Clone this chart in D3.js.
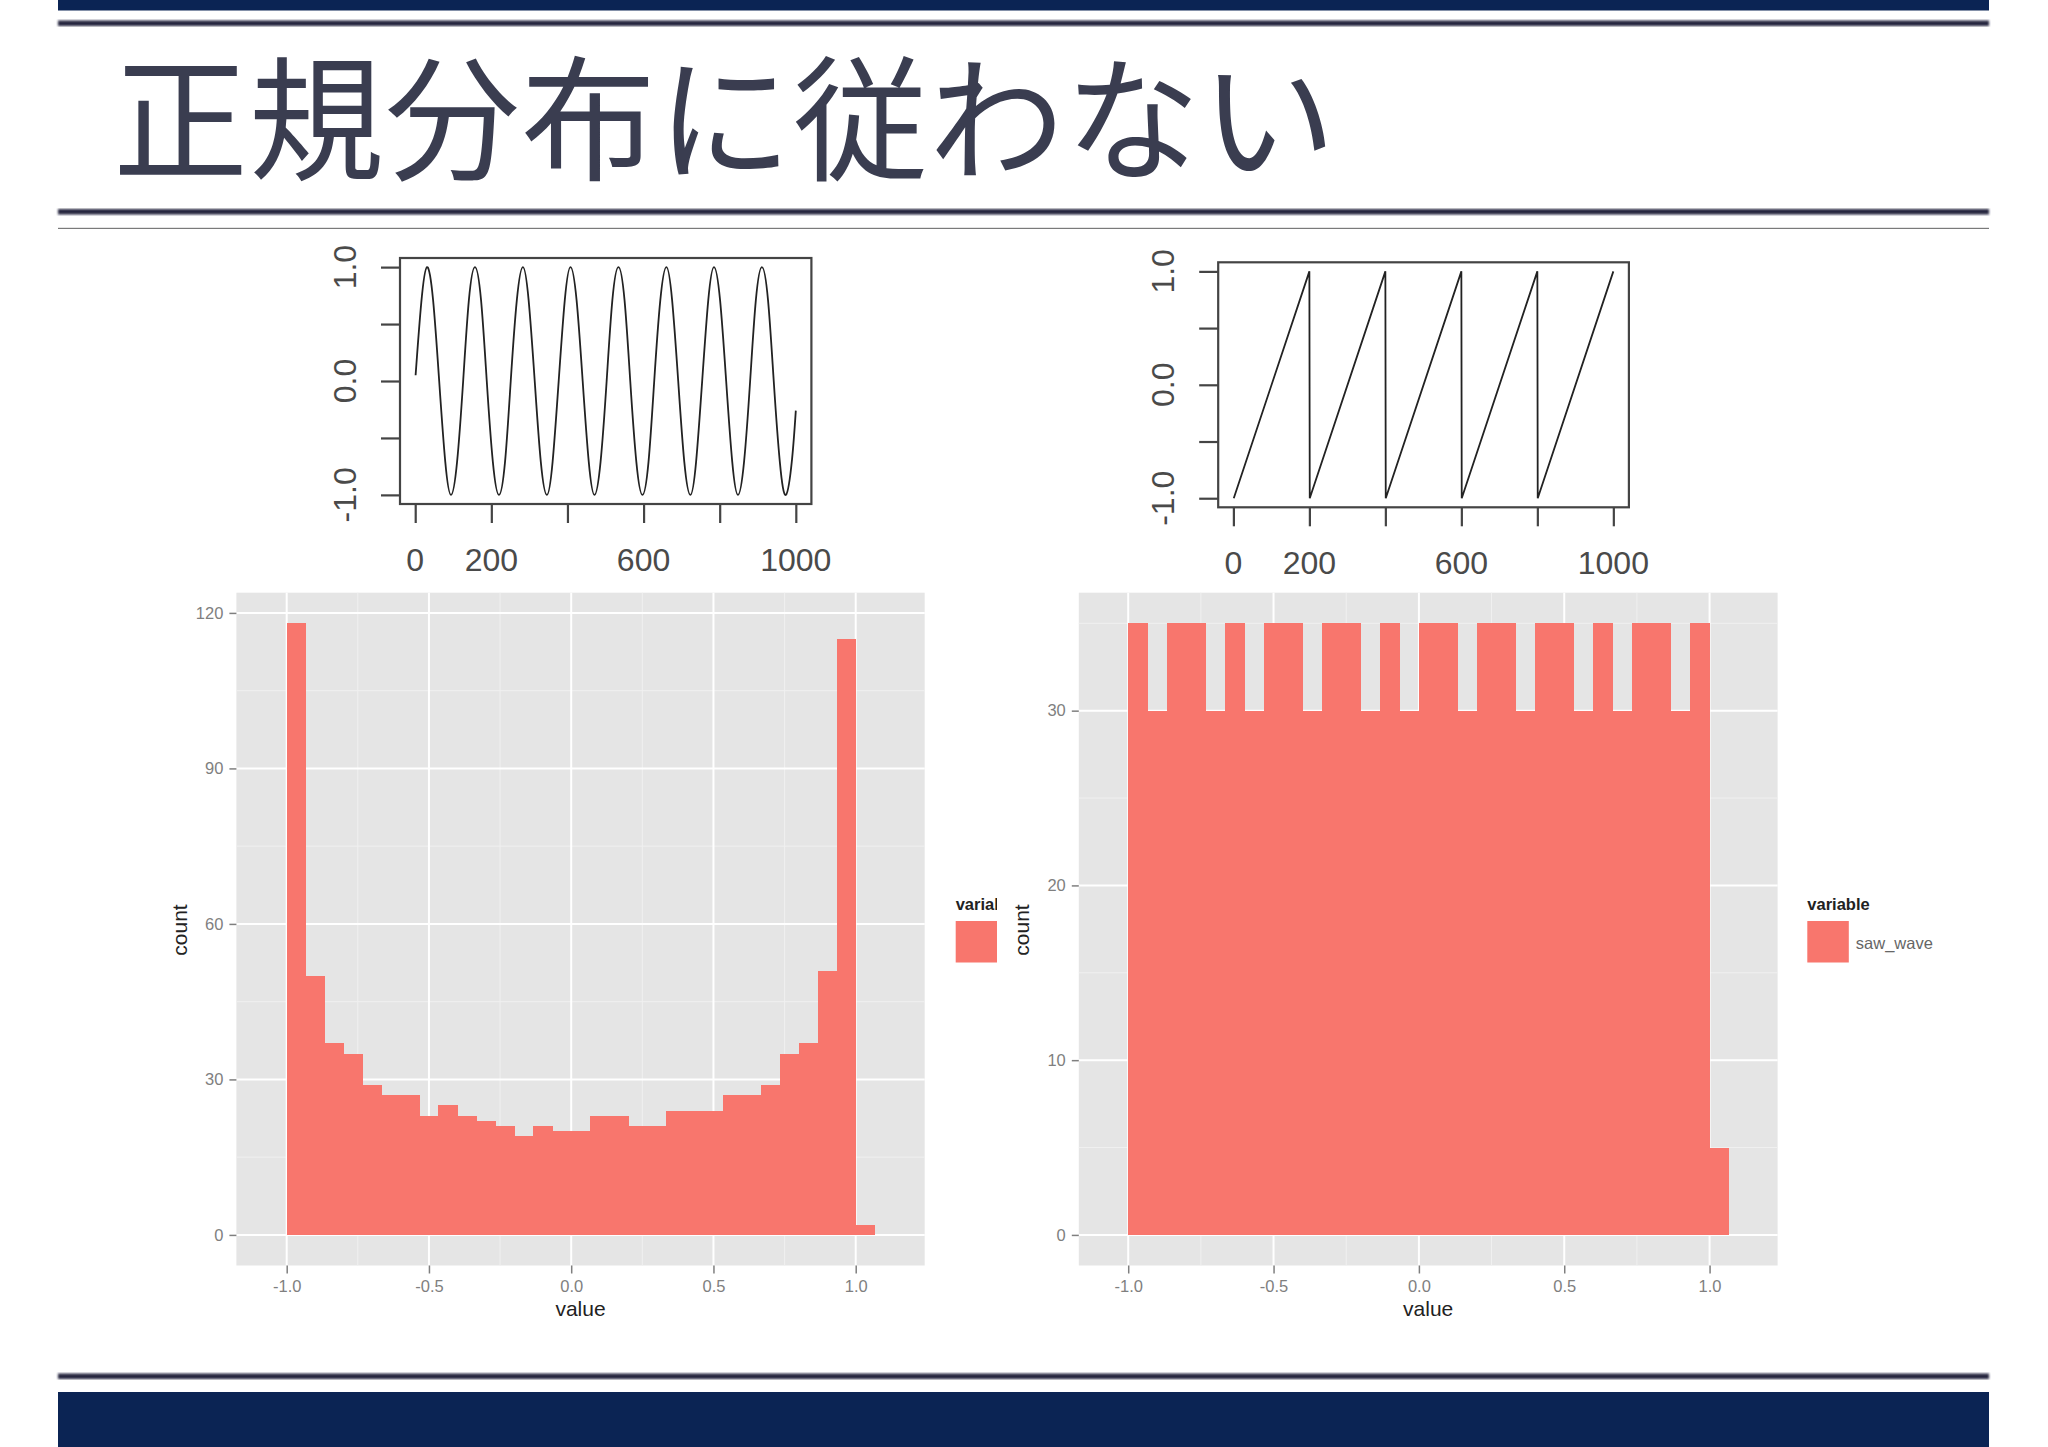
<!DOCTYPE html>
<html><head><meta charset="utf-8">
<script src="https://cdn.jsdelivr.net/npm/d3@7/dist/d3.min.js"></script>
<style>html,body{margin:0;padding:0;background:#fff;} svg{display:block;}</style>
</head><body>
<script>
// ---------------- data ----------------
const titleText = "正規分布に従わない";

// sine wave, read at ~eighth-period points from the upper-left plot
const sineTimes  = [1,16,31,47,63,79,94,110,126,141,157,173,188,204,220,236,251,267,283,298,314,330,346,361,377,393,408,424,440,456,471,487,503,518,534,550,565,581,597,613,628,644,660,675,691,707,723,738,754,770,785,801,817,833,848,864,880,895,911,927,942,958,974,990,1000];
const sineValues = [0.05,0.69,1,0.71,0,-0.71,-1,-0.71,0,0.71,1,0.71,0,-0.71,-1,-0.71,0,0.71,1,0.71,0,-0.71,-1,-0.71,0,0.71,1,0.71,0,-0.71,-1,-0.71,0,0.71,1,0.71,0,-0.71,-1,-0.71,0,0.71,1,0.71,0,-0.71,-1,-0.71,0,0.71,1,0.71,0,-0.71,-1,-0.71,0,0.71,1,0.71,0,-0.71,-1,-0.69,-0.26];

// saw wave, read at its corners from the upper-right plot
const sawTimes  = [1,200,201,400,401,600,601,800,801,1000];
const sawValues = [-1,1,-1,1,-1,1,-1,1,-1,1];

const lineTicksX  = [0,200,400,600,800,1000];
const lineLabelsX = ["0","200","","600","","1000"];
const lineTicksY  = [-1,-0.5,0,0.5,1];
const lineLabelsY = ["-1.0","","0.0","","1.0"];

// histogram bins (30 bins of width 2/30 starting at -1, plus one at 1.0)
const binStarts = [-1,-0.9333,-0.8667,-0.8,-0.7333,-0.6667,-0.6,-0.5333,-0.4667,-0.4,-0.3333,-0.2667,-0.2,-0.1333,-0.0667,0,0.0667,0.1333,0.2,0.2667,0.3333,0.4,0.4667,0.5333,0.6,0.6667,0.7333,0.8,0.8667,0.9333,1];
const binWidth = 0.0667;
const sineCounts = [118,50,37,35,29,27,27,23,25,23,22,21,19,21,20,20,23,23,21,21,24,24,24,27,27,29,35,37,51,115,2];
const sawCounts  = [35,30,35,35,30,35,30,35,35,30,35,35,30,35,30,35,35,30,35,35,30,35,35,30,35,30,35,35,30,35,5];

const histTicksX  = [-1,-0.5,0,0.5,1];
const histLabelsX = ["-1.0","-0.5","0.0","0.5","1.0"];
const histMinorX  = [-0.75,-0.25,0.25,0.75];
const sineHistTicksY = [0,30,60,90,120];
const sineHistMinorY = [15,45,75,105];
const sawHistTicksY  = [0,10,20,30];
const sawHistMinorY  = [5,15,25,35];

const legendTitle = "variable";
const sineLegendLabel = "sin_wave";
const sawLegendLabel  = "saw_wave";
const axisTitleX = "value";
const axisTitleY = "count";

// ---------------- drawing ----------------
const W = 2048, H = 1447;
const svg = d3.select("body").append("svg").attr("width", W).attr("height", H);
const defs = svg.append("defs");
defs.append("filter").attr("id","soft").append("feGaussianBlur").attr("stdDeviation",0.9);
defs.append("clipPath").attr("id","legclip").append("rect")
  .attr("x",900).attr("y",850).attr("width",97).attr("height",150);

svg.append("rect").attr("width",W).attr("height",H).attr("fill","#fff");

// slide frame
const frame = svg.append("g");
frame.append("rect").attr("x",58).attr("y",0).attr("width",1931).attr("height",10.5).attr("fill","#0b2454");
frame.append("rect").attr("x",58).attr("y",20.5).attr("width",1931).attr("height",5.5).attr("fill","#26263f").attr("filter","url(#soft)");
frame.append("rect").attr("x",58).attr("y",209).attr("width",1931).attr("height",5.5).attr("fill","#26263f").attr("filter","url(#soft)");
frame.append("rect").attr("x",58).attr("y",227.8).attr("width",1931).attr("height",1.2).attr("fill","#7a7a7a");
frame.append("rect").attr("x",58).attr("y",1373.5).attr("width",1931).attr("height",5.5).attr("fill","#26263f").attr("filter","url(#soft)");
frame.append("rect").attr("x",58).attr("y",1392).attr("width",1931).attr("height",56).attr("fill","#0b2454");

// title
svg.append("text").text(titleText)
  .attr("x",113).attr("y",111).attr("dominant-baseline","central")
  .attr("font-family","'Noto Sans CJK JP'").attr("font-weight",400)
  .attr("font-size",135).attr("letter-spacing",1).attr("fill","#3a3d50");

// ---- base-R style line plots ----
function linePlot(box, times, values, curve) {
  const g = svg.append("g");
  const x = d3.scaleLinear().domain([-39.96, 1040.96]).range([box.x0, box.x1]);
  const y = d3.scaleLinear().domain([-1.08, 1.08]).range([box.y1, box.y0]);
  const pts = times.map((t,i)=>[t, values[i]]);
  g.append("path").datum(pts)
    .attr("d", d3.line().x(d=>x(d[0])).y(d=>y(d[1])).curve(curve))
    .attr("fill","none").attr("stroke","#222").attr("stroke-width",1.8);
  g.append("rect").attr("x",box.x0).attr("y",box.y0)
    .attr("width",box.x1-box.x0).attr("height",box.y1-box.y0)
    .attr("fill","none").attr("stroke","#444").attr("stroke-width",2.2);
  const ax = g.append("g").attr("transform",`translate(0,${box.y1})`)
    .call(d3.axisBottom(x).tickValues(lineTicksX).tickSize(19).tickFormat(""));
  ax.select(".domain").remove();
  ax.selectAll("line").attr("stroke","#444").attr("stroke-width",2.2);
  const ay = g.append("g").attr("transform",`translate(${box.x0},0)`)
    .call(d3.axisLeft(y).tickValues(lineTicksY).tickSize(19).tickFormat(""));
  ay.select(".domain").remove();
  ay.selectAll("line").attr("stroke","#444").attr("stroke-width",2.2);
  g.selectAll(".xl").data(lineTicksX).enter().append("text")
    .attr("x",d=>x(d)).attr("y",box.y1+56).attr("dominant-baseline","central")
    .attr("text-anchor","middle").attr("font-family","'Liberation Sans', Arial, sans-serif")
    .attr("font-size",32).attr("fill","#4a4a4a").text((d,i)=>lineLabelsX[i]);
  g.selectAll(".yl").data(lineTicksY).enter().append("text")
    .attr("transform",d=>`translate(${box.x0-55},${y(d)}) rotate(-90)`)
    .attr("dominant-baseline","central")
    .attr("text-anchor","middle").attr("font-family","'Liberation Sans', Arial, sans-serif")
    .attr("font-size",32).attr("fill","#4a4a4a").text((d,i)=>lineLabelsY[i]);
}
linePlot({x0:400, x1:811.4, y0:258, y1:504}, sineTimes, sineValues, d3.curveNatural);
linePlot({x0:1218.2, x1:1628.9, y0:262.3, y1:507.3}, sawTimes, sawValues, d3.curveLinear);

// ---- ggplot style histograms ----
function histogram(panel, xDom, yDom, counts, yTicks, yMinor, legend) {
  const g = svg.append("g");
  const x = d3.scaleLinear().domain(xDom).range([panel.x0, panel.x1]);
  const y = d3.scaleLinear().domain(yDom).range([panel.y1, panel.y0]);
  g.append("rect").attr("x",panel.x0).attr("y",panel.y0)
    .attr("width",panel.x1-panel.x0).attr("height",panel.y1-panel.y0).attr("fill","#E5E5E5");
  // minor grid
  g.selectAll(".mx").data(histMinorX).enter().append("line")
    .attr("x1",d=>x(d)).attr("x2",d=>x(d)).attr("y1",panel.y0).attr("y2",panel.y1)
    .attr("stroke","#F0F0F0").attr("stroke-width",1);
  g.selectAll(".my").data(yMinor.filter(v=>y(v)>panel.y0)).enter().append("line")
    .attr("y1",d=>y(d)).attr("y2",d=>y(d)).attr("x1",panel.x0).attr("x2",panel.x1)
    .attr("stroke","#F0F0F0").attr("stroke-width",1);
  // major grid
  g.selectAll(".Mx").data(histTicksX).enter().append("line")
    .attr("x1",d=>x(d)).attr("x2",d=>x(d)).attr("y1",panel.y0).attr("y2",panel.y1)
    .attr("stroke","#fff").attr("stroke-width",2);
  g.selectAll(".My").data(yTicks).enter().append("line")
    .attr("y1",d=>y(d)).attr("y2",d=>y(d)).attr("x1",panel.x0).attr("x2",panel.x1)
    .attr("stroke","#fff").attr("stroke-width",2);
  // bars
  g.selectAll(".bar").data(counts).enter().append("rect")
    .attr("x",(d,i)=>x(binStarts[i]))
    .attr("width",(d,i)=>x(binStarts[i]+binWidth)-x(binStarts[i])+0.5)
    .attr("y",d=>y(d)).attr("height",d=>y(0)-y(d))
    .attr("fill","#F8766D").attr("shape-rendering","crispEdges");
  // axes
  const ax = g.append("g").attr("transform",`translate(0,${panel.y1})`)
    .call(d3.axisBottom(x).tickValues(histTicksX).tickSize(8).tickPadding(7).tickFormat((d,i)=>histLabelsX[i]));
  ax.select(".domain").remove();
  ax.selectAll("line").attr("stroke","#7F7F7F").attr("stroke-width",1.5);
  ax.selectAll("text").attr("font-family","'Liberation Sans', Arial, sans-serif")
    .attr("font-size",16.5).attr("fill","#7F7F7F");
  const ay = g.append("g").attr("transform",`translate(${panel.x0},0)`)
    .call(d3.axisLeft(y).tickValues(yTicks).tickSize(7).tickPadding(6).tickFormat(d3.format("d")));
  ay.select(".domain").remove();
  ay.selectAll("line").attr("stroke","#7F7F7F").attr("stroke-width",1.5);
  ay.selectAll("text").attr("font-family","'Liberation Sans', Arial, sans-serif")
    .attr("font-size",16.5).attr("fill","#7F7F7F");
  // axis titles
  g.append("text").text(axisTitleX).attr("x",(panel.x0+panel.x1)/2).attr("y",1308)
    .attr("dominant-baseline","central").attr("text-anchor","middle")
    .attr("font-family","'Liberation Sans', Arial, sans-serif").attr("font-size",21).attr("fill","#222");
  g.append("text").text(axisTitleY)
    .attr("transform",`translate(${panel.x0-57},930) rotate(-90)`)
    .attr("dominant-baseline","central").attr("text-anchor","middle")
    .attr("font-family","'Liberation Sans', Arial, sans-serif").attr("font-size",21).attr("fill","#222");
  // legend
  const lg = svg.append("g");
  if (legend.clip) lg.attr("clip-path","url(#legclip)");
  lg.append("text").text(legendTitle).attr("x",legend.x).attr("y",910)
    .attr("font-family","'Liberation Sans', Arial, sans-serif").attr("font-weight","bold")
    .attr("font-size",16.5).attr("fill","#222");
  lg.append("rect").attr("x",legend.x).attr("y",921).attr("width",41.5).attr("height",41.5).attr("fill","#F8766D");
  lg.append("text").text(legend.label).attr("x",legend.x+48.5).attr("y",943)
    .attr("dominant-baseline","central")
    .attr("font-family","'Liberation Sans', Arial, sans-serif")
    .attr("font-size",16.5).attr("fill","#666");
}
histogram({x0:236.4, x1:924.7, y0:592.7, y1:1265.5}, [-1.1768, 1.2425], [-5.9, 123.9],
  sineCounts, sineHistTicksY, sineHistMinorY, {x:955.7, label:sineLegendLabel, clip:true});
histogram({x0:1078.8, x1:1777.6, y0:592.7, y1:1265.5}, [-1.170, 1.234], [-1.75, 36.75],
  sawCounts, sawHistTicksY, sawHistMinorY, {x:1807.3, label:sawLegendLabel, clip:false});
</script>
</body></html>
